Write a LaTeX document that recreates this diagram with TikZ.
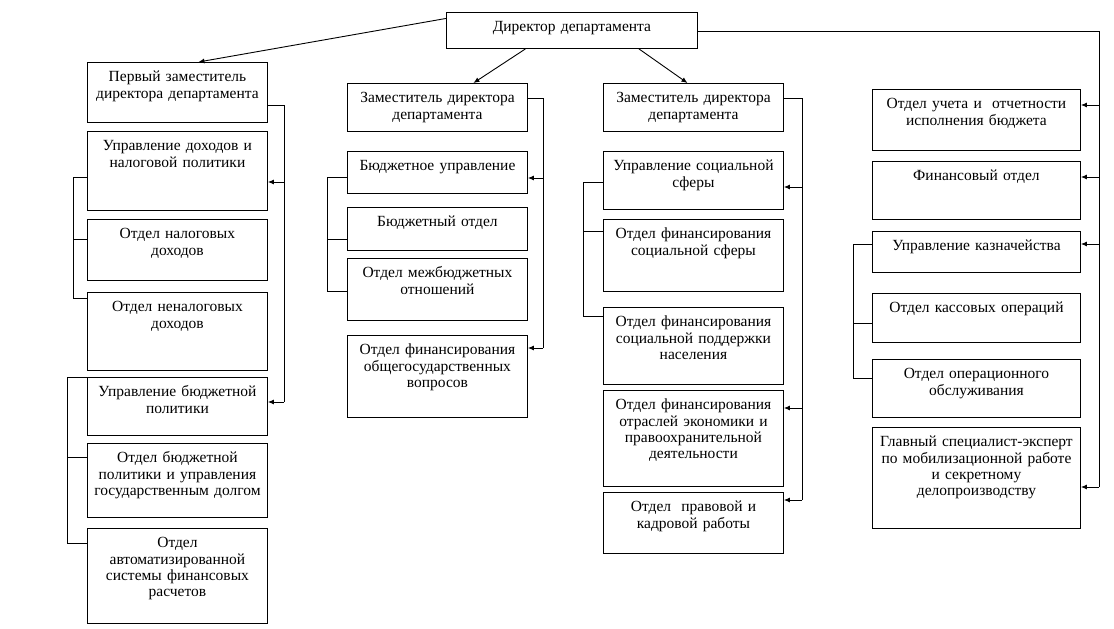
\documentclass[tikz,border=0pt]{standalone}
\usepackage{fontspec}
\setmainfont{Liberation Serif}
\usetikzlibrary{arrows.meta}
\newcommand{\orgfont}{\fontsize{15.5}{16.3}\selectfont}
% box: name, left, top, right, bottom, text (pixel units, y down)
\newcommand{\orgbox}[6]{\pgfmathsetmacro{\boxw}{#4-#2-6}\pgfmathsetmacro{\boxd}{#5-#3-19.5}%
  \node[orgbox, anchor=north west, text width=\boxw pt, text height=19.5pt, text depth=\boxd pt] (#1) at (#2,#3) {#6};}
\newcommand{\feed}[3]{\draw[feed] (#1,#2) -- (#3.east |- 0,#2);}
\newcommand{\stub}[3]{\draw[link] (#1,#2) -- (#3.west |- 0,#2);}
\tikzset{
  orgbox/.style={draw, line width=0.9pt, inner xsep=3pt, inner ysep=0pt, align=center, font=\orgfont},
  link/.style={line width=0.9pt},
  feed/.style={link, -{Latex[length=6pt,width=5pt]}}
}

\begin{document}
\begin{tikzpicture}[x=1pt,y=-1pt]
  \useasboundingbox (0,0) rectangle (1114,629);

  \orgbox{dir}{446}{12}{697}{48}{Директор департамента}

  % first deputy
  \orgbox{dep1}{87}{62}{267}{122}{Первый заместитель\\директора департамента}
  \orgbox{inc}{87}{131}{267}{210}{Управление доходов и\\налоговой политики}
  \orgbox{tax}{87}{219}{267}{280}{Отдел налоговых\\доходов}
  \orgbox{ntax}{87}{292}{267}{370}{Отдел неналоговых\\доходов}
  \orgbox{bpol}{87}{377}{267}{435}{Управление бюджетной\\политики}
  \orgbox{debt}{87}{443}{267}{517}{Отдел бюджетной\\политики и управления\\государственным долгом}
  \orgbox{afs}{87}{528}{267}{623}{Отдел\\автоматизированной\\системы финансовых\\расчетов}

  % deputy, budget
  \orgbox{dep2}{347}{83}{527}{131}{Заместитель директора\\департамента}
  \orgbox{bud}{347}{151}{527}{193}{Бюджетное управление}
  \orgbox{budo}{347}{207}{527}{250}{Бюджетный отдел}
  \orgbox{ibud}{347}{258}{527}{320}{Отдел межбюджетных\\отношений}
  \orgbox{gov}{347}{335}{527}{417}{Отдел финансирования\\общегосударственных\\вопросов}

  % deputy, social
  \orgbox{dep3}{603}{83}{783}{131}{Заместитель директора\\департамента}
  \orgbox{soc}{603}{151}{783}{209}{Управление социальной\\сферы}
  \orgbox{socf}{603}{219}{783}{291}{Отдел финансирования\\социальной сферы}
  \orgbox{socp}{603}{307}{783}{384}{Отдел финансирования\\социальной поддержки\\населения}
  \orgbox{econ}{603}{390}{783}{486}{Отдел финансирования\\отраслей экономики и\\правоохранительной\\деятельности}
  \orgbox{law}{603}{492}{783}{553}{Отдел\ \ правовой и\\кадровой работы}

  % directly under director
  \orgbox{acc}{872}{89}{1080}{150}{Отдел учета и\ \ отчетности\\исполнения бюджета}
  \orgbox{fin}{872}{161}{1080}{219}{Финансовый отдел}
  \orgbox{tre}{872}{231}{1080}{272}{Управление казначейства}
  \orgbox{cash}{872}{293}{1080}{342}{Отдел кассовых операций}
  \orgbox{oper}{872}{359}{1080}{417}{Отдел операционного\\обслуживания}
  \orgbox{mob}{872}{427}{1080}{528}{Главный специалист-эксперт\\по мобилизационной работе\\и секретному\\делопроизводству}

  % director to deputies
  \draw[feed] ([yshift=12pt]dir.west) -- ([xshift=21pt]dep1.north);
  \draw[feed] ([xshift=-46.5pt]dir.south) -- ([xshift=36pt]dep2.north);
  \draw[feed] ([xshift=67pt]dir.south) -- ([xshift=-6pt]dep3.north);
  \draw[link] (dir.east |- 0,31) -- (1099,31) -- (1099,487);

  % right buses
  \draw[link] (dep1.east |- 0,105) -- (284,105) -- (284,402);
  \feed{284}{182}{inc}
  \feed{284}{402}{bpol}
  \draw[link] (dep2.east |- 0,98) -- (543,98) -- (543,348);
  \feed{543}{178}{bud}
  \feed{543}{348}{gov}
  \draw[link] (dep3.east |- 0,98) -- (802,98) -- (802,500);
  \feed{802}{187}{soc}
  \feed{802}{408}{econ}
  \feed{802}{500}{law}
  \feed{1099}{105}{acc}
  \feed{1099}{177}{fin}
  \feed{1099}{244}{tre}
  \feed{1099}{487}{mob}

  % left brackets
  \draw[link] (73,177) -- (73,298);
  \stub{73}{177}{inc}
  \stub{73}{239}{tax}
  \stub{73}{298}{ntax}
  \draw[link] (67,377) -- (67,543);
  \stub{67}{377}{bpol}
  \stub{67}{457}{debt}
  \stub{67}{543}{afs}
  \draw[link] (327,177) -- (327,291);
  \stub{327}{177}{bud}
  \stub{327}{239}{budo}
  \stub{327}{291}{ibud}
  \draw[link] (583,182) -- (583,316);
  \stub{583}{182}{soc}
  \stub{583}{231}{socf}
  \stub{583}{316}{socp}
  \draw[link] (853,244) -- (853,378);
  \stub{853}{244}{tre}
  \stub{853}{323}{cash}
  \stub{853}{378}{oper}
\end{tikzpicture}
\end{document}
